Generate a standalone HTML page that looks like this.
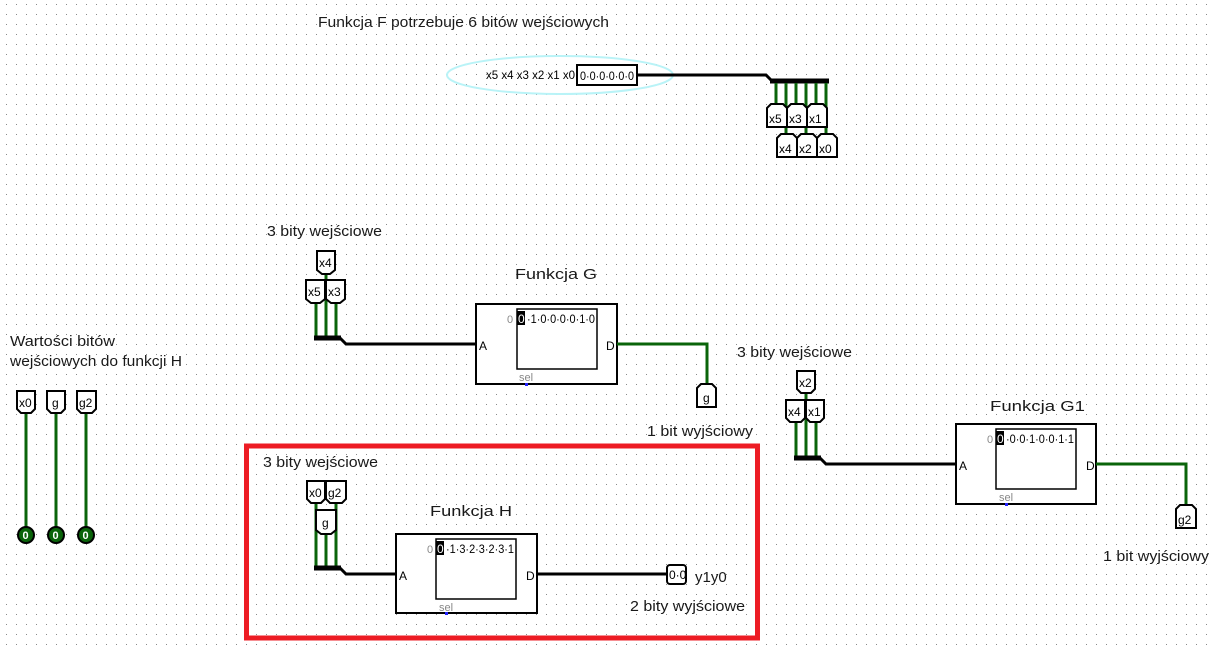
<!DOCTYPE html>
<html><head><meta charset="utf-8"><style>
html,body{margin:0;padding:0;background:#fff;}
svg{display:block;}
text{font-family:"Liberation Sans",sans-serif;}
.lbl{font-size:15px;fill:#1a1a1a;}
.sm{font-size:12px;fill:#000;}
.gr{font-size:11px;fill:#888;}
.tun{fill:#fff;stroke:#000;stroke-width:2;}
.g{stroke:#0a640a;stroke-width:3;fill:none;}
.b{stroke:#000;stroke-width:3;fill:none;}
.bus{stroke:#000;stroke-width:5;fill:none;}
</style></head><body>
<svg width="1215" height="649" viewBox="0 0 1215 649" xmlns="http://www.w3.org/2000/svg">
<defs>
<pattern id="dots" x="6" y="4" width="10" height="10" patternUnits="userSpaceOnUse">
<rect x="0" y="0" width="1" height="1" fill="#8a8a8a"/>
</pattern>
</defs>
<rect width="1215" height="649" fill="#fff"/>
<rect width="1215" height="649" fill="url(#dots)"/>

<text class="lbl" x="318" y="27" textLength="291" lengthAdjust="spacingAndGlyphs">Funkcja F potrzebuje 6 bitów wejściowych</text>
<ellipse cx="560" cy="75" rx="113" ry="19" fill="none" stroke="#b9f3f7" stroke-width="2"/>
<text class="sm" x="486" y="79" textLength="89" lengthAdjust="spacingAndGlyphs">x5 x4 x3 x2 x1 x0</text>
<rect x="577" y="65" width="60" height="20" fill="#fff" stroke="#000" stroke-width="2"/>
<text class="sm" x="580" y="80" textLength="54" lengthAdjust="spacingAndGlyphs">0·0·0·0·0·0</text>
<path class="b" d="M637 75 H766 L772 81"/>
<path class="bus" d="M770 81 H829"/>
<path class="g" d="M776 83V104 M796 83V104 M816 83V104 M786 83V134 M806 83V134 M826 83V134"/>
<g>
<polygon class="tun" points="767,108 771,104 783,104 787,108 787,127 767,127"/>
<polygon class="tun" points="787,108 791,104 803,104 807,108 807,127 787,127"/>
<polygon class="tun" points="807,108 811,104 823,104 827,108 827,127 807,127"/>
<text class="sm" x="769" y="123" font-size="13">x5</text>
<text class="sm" x="789" y="123" font-size="13">x3</text>
<text class="sm" x="809" y="123" font-size="13">x1</text>
<polygon class="tun" points="777,138 781,134 793,134 797,138 797,157 777,157"/>
<polygon class="tun" points="797,138 801,134 813,134 817,138 817,157 797,157"/>
<polygon class="tun" points="817,138 821,134 833,134 837,138 837,157 817,157"/>
<text class="sm" x="779" y="153" font-size="13">x4</text>
<text class="sm" x="799" y="153" font-size="13">x2</text>
<text class="sm" x="819" y="153" font-size="13">x0</text>
</g>

<text class="lbl" x="267" y="236" textLength="115" lengthAdjust="spacingAndGlyphs">3 bity wejściowe</text>
<path class="g" d="M316 302V337 M326 273V337 M336 302V337"/>
<polygon class="tun" points="317,251 335,251 335,270 330,274 322,274 317,270"/>
<text class="sm" x="319" y="267" font-size="13">x4</text>
<polygon class="tun" points="306,280 325,280 325,299 320,303 311,303 306,299"/>
<polygon class="tun" points="326,280 345,280 345,299 340,303 331,303 326,299"/>
<text class="sm" x="308" y="296" font-size="13">x5</text>
<text class="sm" x="328" y="296" font-size="13">x3</text>
<path class="bus" d="M314 338 H341"/>
<path class="b" d="M340 338 L346 344 H477"/>
<text class="lbl" x="515" y="279" font-size="16" textLength="82" lengthAdjust="spacingAndGlyphs">Funkcja G</text>
<rect x="476" y="304" width="141" height="80" fill="#fff" stroke="#000" stroke-width="2"/>
<rect x="517" y="309" width="80" height="60" fill="#fff" stroke="#000" stroke-width="1.5"/>
<text class="gr" x="507" y="323" font-size="12">0</text>
<rect x="517" y="311" width="8" height="14" fill="#000"/>
<text class="sm" x="518" y="323" style="fill:#fff">0</text>
<text class="sm" x="527" y="323" textLength="68" lengthAdjust="spacingAndGlyphs">·1·0·0·0·0·1·0</text>
<text class="sm" x="479" y="350">A</text>
<text class="sm" x="606" y="350">D</text>
<text class="gr" x="519" y="381">sel</text>
<rect x="525" y="383" width="3" height="3" fill="#22f"/>
<path class="g" d="M617 344 H707 V385"/>
<polygon class="tun" points="697,388 701,384 712,384 716,388 716,407 697,407"/>
<text class="sm" x="703" y="402" font-size="13">g</text>
<text class="lbl" x="647" y="436" textLength="106" lengthAdjust="spacingAndGlyphs">1 bit wyjściowy</text>

<text class="lbl" x="10" y="346" textLength="105" lengthAdjust="spacingAndGlyphs">Wartości bitów</text>
<text class="lbl" x="10" y="366" textLength="172" lengthAdjust="spacingAndGlyphs">wejściowych do funkcji H</text>
<path class="g" d="M26 412V530 M56 412V530 M86 412V530"/>
<polygon class="tun" points="17,391 35,391 35,409 31,413 21,413 17,409"/>
<polygon class="tun" points="47,391 65,391 65,409 61,413 51,413 47,409"/>
<polygon class="tun" points="77,391 96,391 96,409 92,413 81,413 77,409"/>
<text class="sm" x="19" y="407" font-size="13">x0</text>
<text class="sm" x="52" y="407" font-size="13">g</text>
<text class="sm" x="79" y="407" font-size="13">g2</text>
<g fill="#0a640a" stroke="#000" stroke-width="2">
<circle cx="26" cy="535" r="8"/><circle cx="56" cy="535" r="8"/><circle cx="86" cy="535" r="8"/>
</g>
<g font-size="11" fill="#fff" font-weight="bold">
<text x="22.5" y="539">0</text><text x="52.5" y="539">0</text><text x="82.5" y="539">0</text>
</g>

<rect x="246.5" y="446" width="511" height="192" fill="none" stroke="#ed1c24" stroke-width="5"/>
<text class="lbl" x="263" y="467" textLength="115" lengthAdjust="spacingAndGlyphs">3 bity wejściowe</text>
<path class="g" d="M316 502V567 M326 534V567 M336 502V567"/>
<polygon class="tun" points="307,481 325,481 325,499 321,503 311,503 307,499"/>
<polygon class="tun" points="326,481 346,481 346,499 342,503 330,503 326,499"/>
<polygon class="tun" points="316,510 336,510 336,530 331,534 321,534 316,530"/>
<text class="sm" x="309" y="497" font-size="13">x0</text>
<text class="sm" x="328" y="497" font-size="13">g2</text>
<text class="sm" x="322" y="527" font-size="13">g</text>
<path class="bus" d="M314 568 H341"/>
<path class="b" d="M340 568 L346 574 H397"/>
<text class="lbl" x="430" y="516" font-size="16" textLength="82" lengthAdjust="spacingAndGlyphs">Funkcja H</text>
<rect x="396" y="534" width="141" height="79" fill="#fff" stroke="#000" stroke-width="2"/>
<rect x="436" y="539" width="80" height="60" fill="#fff" stroke="#000" stroke-width="1.5"/>
<text class="gr" x="427" y="553" font-size="12">0</text>
<rect x="436" y="541" width="8" height="14" fill="#000"/>
<text class="sm" x="437" y="553" style="fill:#fff">0</text>
<text class="sm" x="446" y="553" textLength="68" lengthAdjust="spacingAndGlyphs">·1·3·2·3·2·3·1</text>
<text class="sm" x="399" y="580">A</text>
<text class="sm" x="526" y="580">D</text>
<text class="gr" x="439" y="611">sel</text>
<rect x="445" y="612" width="3" height="3" fill="#22f"/>
<path class="b" d="M537 574 H667"/>
<rect x="667" y="565" width="19" height="19" rx="3" fill="#fff" stroke="#000" stroke-width="2"/>
<text class="sm" x="669" y="579" font-size="11">0·0</text>
<text class="lbl" x="695" y="582" font-size="16">y1y0</text>
<text class="lbl" x="630" y="611" textLength="115" lengthAdjust="spacingAndGlyphs">2 bity wyjściowe</text>

<text class="lbl" x="737" y="357" textLength="115" lengthAdjust="spacingAndGlyphs">3 bity wejściowe</text>
<path class="g" d="M796 422V457 M806 392V457 M816 422V457"/>
<polygon class="tun" points="797,371 815,371 815,389 811,393 801,393 797,389"/>
<polygon class="tun" points="786,400 805,400 805,418 801,422 790,422 786,418"/>
<polygon class="tun" points="806,400 824,400 824,418 820,422 810,422 806,418"/>
<text class="sm" x="799" y="387" font-size="13">x2</text>
<text class="sm" x="788" y="416" font-size="13">x4</text>
<text class="sm" x="808" y="416" font-size="13">x1</text>
<path class="bus" d="M794 458 H821"/>
<path class="b" d="M820 458 L826 464 H957"/>
<text class="lbl" x="990" y="411" font-size="16" textLength="95" lengthAdjust="spacingAndGlyphs">Funkcja G1</text>
<rect x="956" y="424" width="140" height="80" fill="#fff" stroke="#000" stroke-width="2"/>
<rect x="996" y="429" width="80" height="60" fill="#fff" stroke="#000" stroke-width="1.5"/>
<text class="gr" x="987" y="443" font-size="12">0</text>
<rect x="996" y="431" width="8" height="14" fill="#000"/>
<text class="sm" x="997" y="443" style="fill:#fff">0</text>
<text class="sm" x="1006" y="443" textLength="68" lengthAdjust="spacingAndGlyphs">·0·0·1·0·0·1·1</text>
<text class="sm" x="959" y="470">A</text>
<text class="sm" x="1086" y="470">D</text>
<text class="gr" x="999" y="501">sel</text>
<rect x="1005" y="503" width="3" height="3" fill="#22f"/>
<path class="g" d="M1096 464 H1186 V506"/>
<polygon class="tun" points="1176,509 1180,505 1192,505 1196,509 1196,528 1176,528"/>
<text class="sm" x="1178" y="524" font-size="13">g2</text>
<text class="lbl" x="1103" y="561" textLength="106" lengthAdjust="spacingAndGlyphs">1 bit wyjściowy</text>
</svg>
</body></html>
